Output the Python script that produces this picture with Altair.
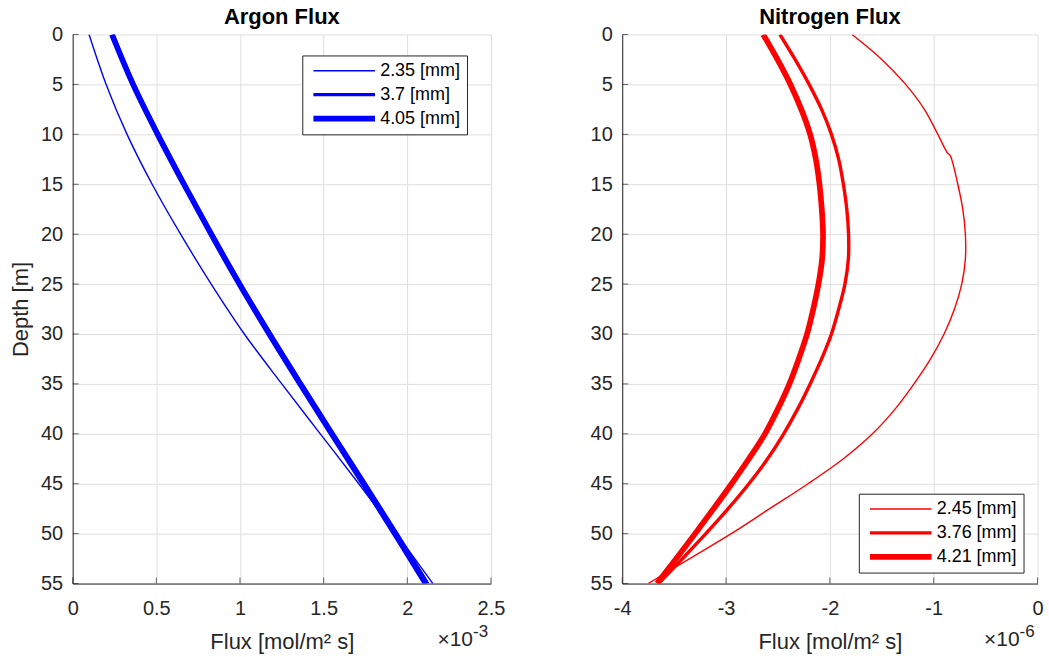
import altair as alt
import pandas as pd

FONT = "Liberation Sans"
INK = "#262626"
GRID = "#dfdfdf"
PLOT_H = 550

# Argon flux profiles, flux in units of 1e-3 mol/m^2 s
argon_depth = [0, 5, 10, 15, 20, 25, 30, 35, 40, 45, 50, 55]
argon_235 = [0.098, 0.200, 0.325, 0.475, 0.645, 0.828, 1.026, 1.250, 1.480,
             1.710, 1.935, 2.153]
argon_370 = [0.240, 0.366, 0.513, 0.671, 0.834, 1.004, 1.183, 1.369, 1.558,
             1.749, 1.938, 2.122]
argon_405 = [0.235, 0.361, 0.508, 0.665, 0.828, 0.997, 1.175, 1.360, 1.548,
             1.738, 1.926, 2.110]

# Nitrogen flux profiles, flux in units of 1e-6 mol/m^2 s
nitro_depth_thin = [0, 2.5, 5, 7.5, 10, 11.9, 12.1, 15, 17.5, 20, 22.5, 25, 27.5,
                    30, 32.5, 35, 37.5, 40, 42.5, 45, 47.5, 50, 52.5, 55]
nitro_245 = [-1.786, -1.50, -1.27, -1.09, -0.96, -0.865, -0.842, -0.768, -0.72,
             -0.695, -0.695, -0.73, -0.80, -0.90, -1.03, -1.19, -1.37, -1.59,
             -1.87, -2.21, -2.58, -2.95, -3.35, -3.75]
nitro_depth = [0, 2.5, 5, 7.5, 10, 12.5, 15, 17.5, 20, 22.5, 25, 27.5, 30, 32.5,
               35, 37.5, 40, 42.5, 45, 47.5, 50, 52.5, 55]
nitro_376 = [-2.481, -2.335, -2.20, -2.08, -1.985, -1.915, -1.87, -1.837, -1.82,
             -1.822, -1.855, -1.915, -1.985, -2.08, -2.19, -2.31, -2.445, -2.60,
             -2.78, -2.98, -3.195, -3.42, -3.65]
nitro_421 = [-2.642, -2.505, -2.38, -2.275, -2.19, -2.135, -2.10, -2.078, -2.066,
             -2.075, -2.11, -2.16, -2.22, -2.30, -2.39, -2.50, -2.625, -2.78,
             -2.946, -3.12, -3.298, -3.48, -3.665]

argon_names = ["2.35 [mm]", "3.7 [mm]", "4.05 [mm]"]
nitro_names = ["2.45 [mm]", "3.76 [mm]", "4.21 [mm]"]
line_widths = [1.4, 3.4, 5.7]

depth_ticks = list(range(0, 56, 5))
argon_ticks = [0, 0.5, 1, 1.5, 2, 2.5]
nitro_ticks = [-4, -3, -2, -1, 0]


def long_frame(parts):
    rows = []
    for name, depths, fluxes in parts:
        for d, f in zip(depths, fluxes):
            rows.append({"series": name, "depth": d, "flux": f})
    return pd.DataFrame(rows)


argon_df = long_frame([
    (argon_names[0], argon_depth, argon_235),
    (argon_names[1], argon_depth, argon_370),
    (argon_names[2], argon_depth, argon_405),
])
nitro_df = long_frame([
    (nitro_names[0], nitro_depth_thin, nitro_245),
    (nitro_names[1], nitro_depth, nitro_376),
    (nitro_names[2], nitro_depth, nitro_421),
])


def profile_panel(frame, names, color, x_domain, x_ticks, title, width,
                  legend_x, legend_y, exponent, y_title=None):
    x_enc = dict(
        scale=alt.Scale(domain=x_domain, nice=False, zero=False),
        axis=alt.Axis(values=x_ticks, title="Flux [mol/m² s]",
                      labelExpr="'' + datum.value"),
    )
    y_enc = dict(
        scale=alt.Scale(domain=[0, 55], reverse=True, nice=False),
        axis=alt.Axis(values=depth_ticks, title=y_title if y_title else None),
    )

    lines = alt.Chart(frame).mark_line(
        color=color, clip=True, interpolate="catmull-rom"
    ).encode(
        x=alt.X("flux:Q", **x_enc),
        y=alt.Y("depth:Q", **y_enc),
        strokeWidth=alt.StrokeWidth(
            "series:N",
            scale=alt.Scale(type="ordinal", domain=names, range=line_widths),
            legend=alt.Legend(
                title=None, orient="none", legendX=legend_x, legendY=legend_y,
                symbolType="stroke", symbolSize=3807, symbolStrokeColor=color,
                clipHeight=18.5, rowPadding=5, padding=6, symbolOffset=2,
                labelOffset=2, labelFont=FONT, labelFontSize=18,
                labelColor="black", labelLimit=0, strokeColor=INK,
                fillColor="white")),
        detail="series:N",
        order="depth:Q",
    )

    # inward-pointing tick marks along the left and bottom axes
    y_marks = alt.Chart(pd.DataFrame({"depth": depth_ticks})).mark_tick(
        orient="horizontal", size=6, thickness=1, color=INK
    ).encode(y=alt.Y("depth:Q", **y_enc), x=alt.value(3))
    x_marks = alt.Chart(pd.DataFrame({"flux": x_ticks})).mark_tick(
        orient="vertical", size=6, thickness=1, color=INK
    ).encode(x=alt.X("flux:Q", **x_enc), y=alt.value(PLOT_H - 3))

    # axis multiplier, e.g. x10^-3
    exp_df = pd.DataFrame({"base": ["×10"], "power": [exponent]})
    base_txt = alt.Chart(exp_df).mark_text(
        align="right", baseline="alphabetic", font=FONT, fontSize=21, color=INK
    ).encode(x=alt.value(width - 18), y=alt.value(PLOT_H + 63), text="base:N")
    pow_txt = alt.Chart(exp_df).mark_text(
        align="left", baseline="alphabetic", font=FONT, fontSize=17, color=INK
    ).encode(x=alt.value(width - 18), y=alt.value(PLOT_H + 54), text="power:N")

    return alt.layer(lines, y_marks, x_marks, base_txt, pow_txt).properties(
        width=width, height=PLOT_H, title=title)


argon = profile_panel(argon_df, argon_names, "#0000ff", [0, 2.5], argon_ticks,
                      "Argon Flux", 419, 230, 21, "-3", y_title="Depth [m]")
nitro = profile_panel(nitro_df, nitro_names, "#ff0000", [-4, 0], nitro_ticks,
                      "Nitrogen Flux", 416, 237, 460, "-6")

chart = alt.hconcat(argon, nitro, spacing=131.5, bounds="flush").resolve_scale(
    x="independent", y="independent", strokeWidth="independent"
).resolve_legend(strokeWidth="independent").properties(
    padding={"left": 8.8, "top": 5, "right": 5, "bottom": 5}
).configure_view(strokeWidth=0).configure_axis(
    domainColor=INK, domainWidth=1, gridColor=GRID, gridWidth=1,
    labelFont=FONT, labelFontSize=20, labelColor=INK, labelFlush=False,
    labelOverlap=False, labelBound=False,
    titleFont=FONT, titleFontSize=22, titleColor=INK, titleFontWeight="normal",
    ticks=False, tickSize=0
).configure_axisX(labelPadding=15, titlePadding=13).configure_axisY(
    labelPadding=10, titlePadding=8
).configure_title(
    font=FONT, fontSize=22, fontWeight="bold", color="black", offset=-4,
    anchor="middle"
)

chart.save("out.html", embed_options={"renderer": "svg", "actions": False})
